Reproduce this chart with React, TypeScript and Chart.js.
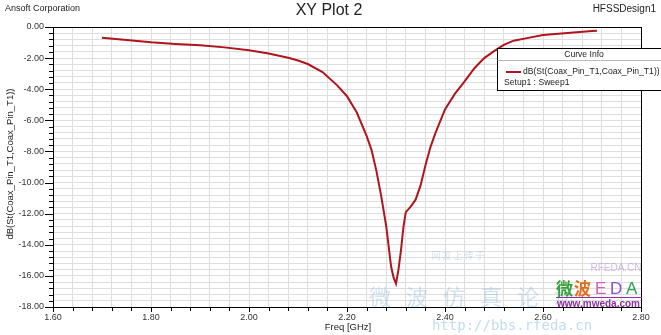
import React, { useEffect, useRef } from 'react';
import { Chart, registerables } from 'chart.js';

Chart.register(...registerables);

// Frequency sweep (GHz) and return loss (dB)
const freqGHz = [
  1.70, 1.75, 1.80, 1.85, 1.90, 1.95, 2.00, 2.04, 2.08, 2.10, 2.12, 2.15, 2.18, 2.20, 2.22,
  2.24, 2.25, 2.26, 2.27, 2.28, 2.29, 2.295, 2.30, 2.305, 2.31, 2.315, 2.32, 2.33, 2.34,
  2.35, 2.36, 2.37, 2.38, 2.40, 2.42, 2.44, 2.46, 2.48, 2.50, 2.52, 2.54, 2.57, 2.60, 2.65,
  2.70, 2.71,
];
const dbS11 = [
  -0.69, -0.83, -0.98, -1.09, -1.17, -1.31, -1.49, -1.71, -1.98, -2.15, -2.38, -2.9, -3.75, -4.45, -5.5,
  -7.0, -7.9, -9.25, -10.9, -12.8, -15.4, -16.1, -16.5, -15.6, -14.4, -12.9, -11.9, -11.55, -11.1,
  -10.2, -8.9, -7.75, -6.85, -5.3, -4.3, -3.5, -2.65, -2.0, -1.55, -1.15, -0.88, -0.70, -0.52, -0.38,
  -0.26, -0.24,
];

const xTickValues = [
  1.60, 1.64, 1.68, 1.72, 1.76, 1.80, 1.84, 1.88, 1.92, 1.96, 2.00, 2.04, 2.08, 2.12, 2.16, 2.20,
  2.24, 2.28, 2.32, 2.36, 2.40, 2.44, 2.48, 2.52, 2.56, 2.60, 2.64, 2.68, 2.72, 2.76, 2.80,
];
const xTickLabels = ['1.60', '1.80', '2.00', '2.20', '2.40', '2.60', '2.80'];
const yTickValues = [
  -18, -17.6, -17.2, -16.8, -16.4, -16, -15.6, -15.2, -14.8, -14.4, -14, -13.6, -13.2, -12.8, -12.4,
  -12, -11.6, -11.2, -10.8, -10.4, -10, -9.6, -9.2, -8.8, -8.4, -8, -7.6, -7.2, -6.8, -6.4, -6,
  -5.6, -5.2, -4.8, -4.4, -4, -3.6, -3.2, -2.8, -2.4, -2, -1.6, -1.2, -0.8, -0.4, 0,
];
const yTickLabels = ['-18.00', '-16.00', '-14.00', '-12.00', '-10.00', '-8.00', '-6.00', '-4.00', '-2.00', '0.00'];

const titleText = 'XY Plot 2';
const companyText = 'Ansoft Corporation';
const designText = 'HFSSDesign1';
const xTitle = 'Freq [GHz]';
const yTitle = 'dB(St(Coax_Pin_T1,Coax_Pin_T1))';
const legendTitle = 'Curve Info';
const seriesName = 'dB(St(Coax_Pin_T1,Coax_Pin_T1))';
const setupName = 'Setup1 : Sweep1';

const FONT = "'Liberation Sans', Arial, sans-serif";
const CURVE = '#b0141c';

function findLabel(labels: string[], v: number) {
  const s = v.toFixed(2);
  const t = s === '-0.00' ? '0.00' : s;
  return labels.includes(t) ? t : '';
}

export default function App() {
  const ref = useRef<HTMLCanvasElement>(null);

  useEffect(() => {
    if (!ref.current) return;

    const overlay = {
      id: 'overlay',
      beforeDraw(chart: any) {
        const ctx = chart.ctx;
        ctx.save();
        ctx.fillStyle = '#ffffff';
        ctx.fillRect(0, 0, chart.width, chart.height);
        ctx.restore();
      },
      afterDraw(chart: any) {
        const ctx = chart.ctx;
        const a = chart.chartArea;
        const xs = chart.scales.x;
        const ys = chart.scales.y;
        ctx.save();

        // frame
        ctx.strokeStyle = '#000';
        ctx.lineWidth = 1;
        ctx.strokeRect(Math.round(a.left) + 0.5, Math.round(a.top) + 0.5, Math.round(a.right - a.left), Math.round(a.bottom - a.top));

        // ticks
        ctx.beginPath();
        xs.ticks.forEach((t: any) => {
          const px = Math.round(xs.getPixelForValue(t.value)) + 0.5;
          const major = findLabel(xTickLabels, t.value) !== '';
          ctx.moveTo(px, a.bottom);
          ctx.lineTo(px, a.bottom + (major ? 5 : 4));
        });
        ys.ticks.forEach((t: any) => {
          const py = Math.round(ys.getPixelForValue(t.value)) + 0.5;
          const major = findLabel(yTickLabels, t.value) !== '';
          ctx.moveTo(a.left, py);
          ctx.lineTo(a.left - (major ? 8 : 4), py);
        });
        ctx.stroke();

        // header texts
        ctx.fillStyle = '#222';
        ctx.textBaseline = 'middle';
        ctx.font = `9px ${FONT}`;
        ctx.textAlign = 'left';
        ctx.fillText(companyText, 5, 9);
        ctx.font = `10px ${FONT}`;
        ctx.textAlign = 'right';
        ctx.fillText(designText, 656, 9);
        ctx.font = `16px ${FONT}`;
        ctx.textAlign = 'center';
        ctx.fillText(titleText, 329, 11);

        // axis titles
        ctx.font = `9.5px ${FONT}`;
        ctx.fillText(xTitle, 348, 327);
        ctx.save();
        ctx.translate(10, 164);
        ctx.rotate(-Math.PI / 2);
        ctx.fillText(yTitle, 0, 0);
        ctx.restore();

        // watermarks
        ctx.globalAlpha = 0.35;
        ctx.fillStyle = '#7fb0d8';
        ctx.font = `22px 'Noto Sans CJK SC', sans-serif`;
        const wm = ['微', '波', '仿', '真', '论', '坛'];
        wm.forEach((c, i) => ctx.fillText(c, 380 + i * 37, 297));
        ctx.font = `9px 'Noto Sans CJK SC', sans-serif`;
        ctx.fillStyle = '#90a8c8';
        ctx.fillText('网 友 上 传 于', 458, 256);
        ctx.globalAlpha = 0.55;
        ctx.font = `14px 'DejaVu Sans Mono', monospace`;
        ctx.fillStyle = '#8cc0e0';
        ctx.fillText('http://bbs.rfeda.cn', 512, 326);
        ctx.globalAlpha = 0.6;
        ctx.font = `10px ${FONT}`;
        ctx.fillStyle = '#b090d0';
        ctx.fillText('RFEDA.CN', 616, 268);
        ctx.globalAlpha = 1;
        ctx.font = `bold 17px 'Noto Sans CJK SC', sans-serif`;
        ctx.textAlign = 'left';
        ctx.fillStyle = '#3aa03a';
        ctx.fillText('微', 556, 289);
        ctx.fillStyle = '#e07020';
        ctx.fillText('波', 574, 289);
        ctx.font = `17px ${FONT}`;
        ctx.fillStyle = '#d060c0';
        ctx.fillText('E', 595, 289);
        ctx.fillStyle = '#9050d0';
        ctx.fillText('D', 610, 289);
        ctx.fillStyle = '#30a050';
        ctx.fillText('A', 626, 289);
        ctx.strokeStyle = '#9030a0';
        ctx.beginPath();
        ctx.moveTo(556, 297.5);
        ctx.lineTo(642, 297.5);
        ctx.stroke();
        ctx.font = `bold 10px ${FONT}`;
        ctx.fillStyle = '#9030a0';
        ctx.fillText('www.mweda.com', 557, 304);

        // legend box
        ctx.fillStyle = '#ffffff';
        ctx.fillRect(497, 48, 180, 42);
        ctx.strokeStyle = '#000';
        ctx.lineWidth = 1;
        ctx.strokeRect(497.5, 48.5, 180, 42);
        ctx.beginPath();
        ctx.moveTo(497.5, 60.5);
        ctx.lineTo(661, 60.5);
        ctx.strokeStyle = '#bbb';
        ctx.stroke();
        ctx.fillStyle = '#222';
        ctx.font = `8.6px ${FONT}`;
        ctx.textAlign = 'center';
        ctx.fillText(legendTitle, 584, 54.5);
        ctx.textAlign = 'left';
        ctx.strokeStyle = CURVE;
        ctx.lineWidth = 2;
        ctx.beginPath();
        ctx.moveTo(506, 72);
        ctx.lineTo(521, 72);
        ctx.stroke();
        ctx.fillText(seriesName, 523, 72);
        ctx.fillText(setupName, 504, 83);

        ctx.restore();
      },
    };

    const chart = new Chart(ref.current, {
      type: 'line',
      data: {
        datasets: [
          {
            data: freqGHz.map((f, i) => ({ x: f, y: dbS11[i] })),
            borderColor: CURVE,
            borderWidth: 2,
            pointRadius: 0,
            tension: 0,
            fill: false,
          },
        ],
      },
      options: {
        responsive: false,
        animation: false,
        layout: { padding: { left: 0, top: 27, right: 20, bottom: 0 } },
        plugins: { legend: { display: false }, tooltip: { enabled: false } },
        scales: {
          x: {
            type: 'linear',
            min: 1.6,
            max: 2.8,
            afterFit: (s: any) => {
              s.height = 28;
            },
            afterBuildTicks: (s: any) => {
              s.ticks = xTickValues.map((v) => ({ value: v }));
            },
            ticks: {
              autoSkip: false,
              maxRotation: 0,
              padding: 5,
              color: '#333',
              font: { family: FONT, size: 9 },
              callback: (v: any) => findLabel(xTickLabels, Number(v)),
            },
            grid: { color: '#dedede', lineWidth: 1, drawTicks: false },
            border: { color: '#000', width: 1 },
          },
          y: {
            type: 'linear',
            min: -18,
            max: 0,
            afterFit: (s: any) => {
              s.width = 53;
            },
            afterBuildTicks: (s: any) => {
              s.ticks = yTickValues.map((v) => ({ value: v }));
            },
            ticks: {
              autoSkip: false,
              padding: 9,
              color: '#333',
              font: { family: FONT, size: 9 },
              callback: (v: any) => findLabel(yTickLabels, Number(v)),
            },
            grid: { color: '#dedede', lineWidth: 1, drawTicks: false },
            border: { color: '#000', width: 1 },
          },
        },
      },
      plugins: [overlay],
    } as any);

    return () => chart.destroy();
  }, []);

  return (
    <div style={{ position: 'absolute', left: 0, top: 0, width: 661, height: 335, background: '#fff' }}>
      <canvas ref={ref} width={661} height={335} style={{ display: 'block', width: 661, height: 335 }} />
    </div>
  );
}
